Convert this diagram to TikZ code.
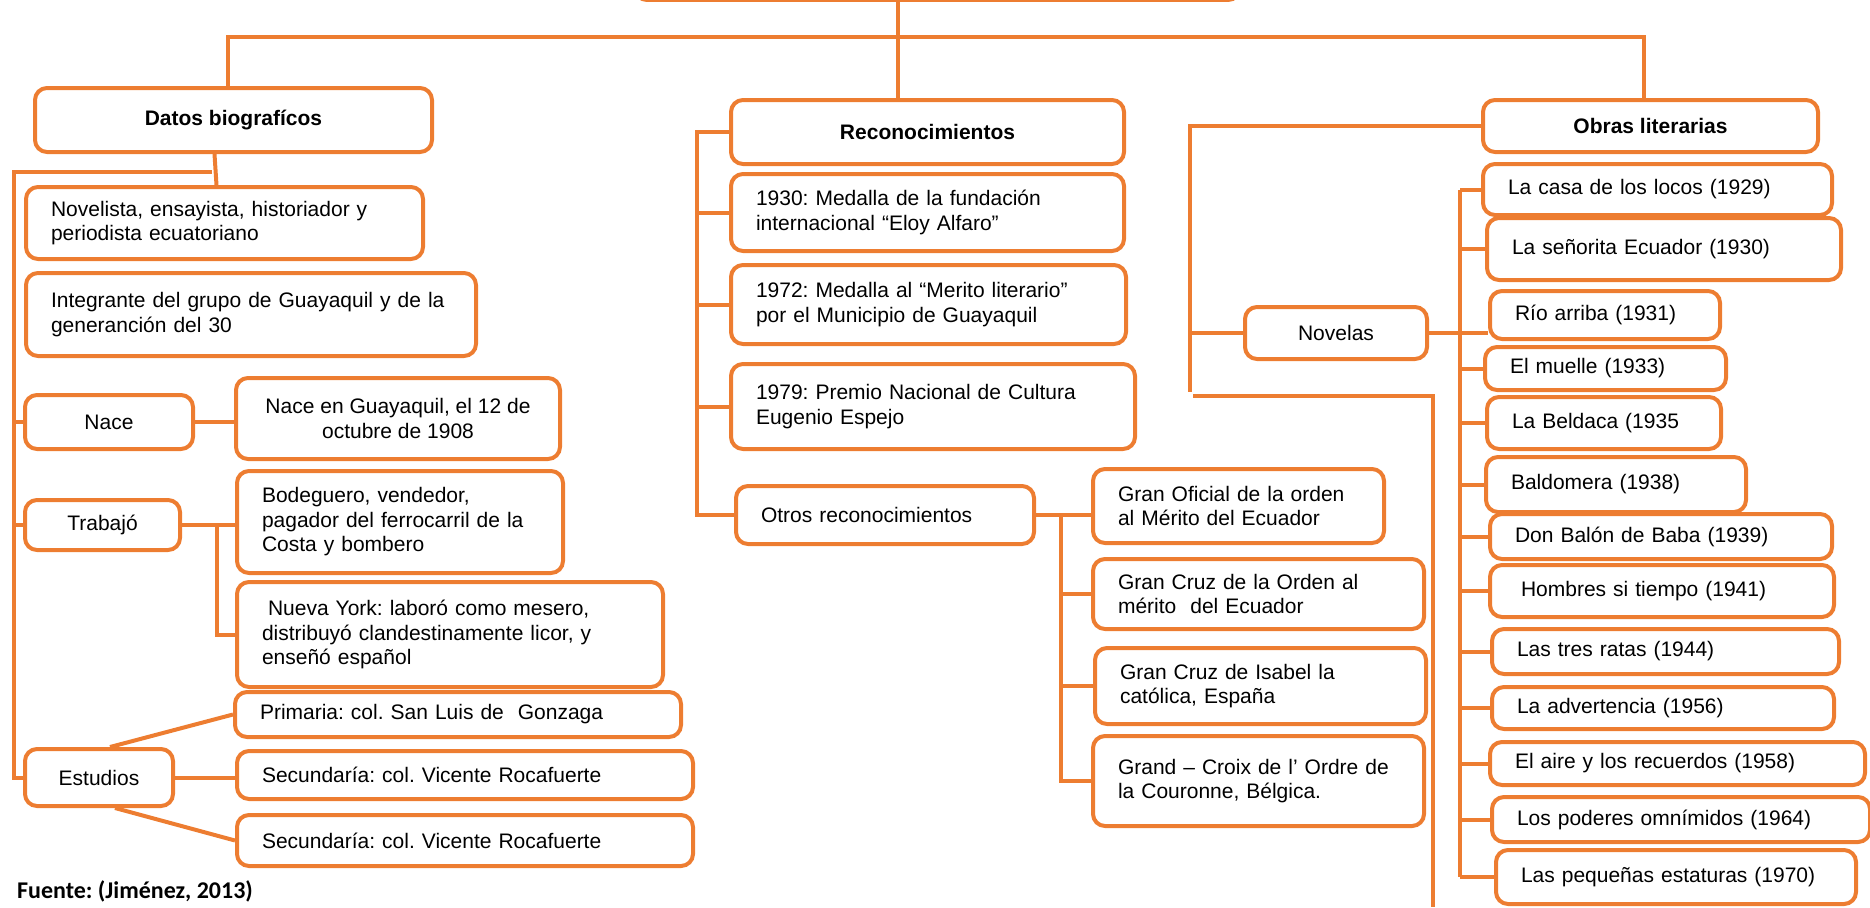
\documentclass[tikz,border=0pt]{standalone}
\usepackage{fontspec}
\usepackage{xcolor}
\usepackage{tikz}
\usetikzlibrary{positioning}
\newfontfamily\letra{Liberation Sans}
\newfontfamily\calibri{Carlito}
\definecolor{naranja}{RGB}{237,125,49}
\frenchspacing

\begin{document}
\begin{tikzpicture}[x=1pt,y=-1pt,
  caja/.style={draw=naranja,line width=4pt,rounded corners=12pt,anchor=north west,inner xsep=25pt,inner ysep=0pt,align=left,font=\letra\fontsize{21pt}{24.5pt}\selectfont},
  centro/.style={caja,align=center},
  cabecera/.style={caja,align=center,font=\letra\bfseries\fontsize{21pt}{24.5pt}\selectfont},
  linea/.style={draw=naranja,line width=4pt}]
 \useasboundingbox (0,0) rectangle (1870,907);
 \clip (0,0) rectangle (1870,907);
 \node[caja,minimum width=605pt,minimum height=80pt,anchor=south west](raiz) at (633,2){};
 \node[cabecera,minimum width=397pt,minimum height=64pt](datos) at (33,86){Datos biografícos};
 \node[cabecera,minimum width=393pt,minimum height=64pt](recon) at (729,98){Reconocimientos};
 \node[cabecera,minimum width=335pt,minimum height=52pt](obras) at (1481,98){Obras literarias};

 \node[caja,text width=347pt,minimum height=72pt](novelista) at (24,185){Novelista, ensayista, historiador y\\periodista ecuatoriano};
 \node[caja,text width=400pt,minimum height=83pt](integrante) at (24,271){Integrante del grupo de Guayaquil y de la\\generanción del 30};
 \node[centro,minimum width=168pt,minimum height=54pt](nace) at (23,393){Nace};
 \node[centro,minimum width=324pt,minimum height=81pt](nacedet) at (234,376){Nace en Guayaquil, el 12 de\\octubre de 1908};
 \node[centro,minimum width=155pt,minimum height=50pt](trabajo) at (23,498){Trabajó};
 \node[caja,text width=276pt,minimum height=102pt](bodeguero) at (235,469){Bodeguero, vendedor,\\pagador del ferrocarril de la\\Costa y bombero};
 \node[caja,text width=376pt,minimum height=105pt](nuevayork) at (235,580){\hspace*{6pt}Nueva York: laboró como mesero,\\distribuyó clandestinamente licor, y\\enseñó español};
 \node[caja,text width=396pt,minimum height=45pt](primaria) at (233,690){Primaria: col. San Luis de\ \ Gonzaga};
 \node[centro,minimum width=148pt,minimum height=57pt](estudios) at (23,747){Estudios};
 \node[caja,text width=406pt,minimum height=48pt](secund) at (235,749){Secundaría: col. Vicente Rocafuerte};
 \node[caja,text width=406pt,minimum height=51pt](secundb) at (235,813){Secundaría: col. Vicente Rocafuerte};
 \node[anchor=west,inner sep=0pt,font=\calibri\bfseries\fontsize{24pt}{28pt}\selectfont](fuente) at (17,891){Fuente: (Jiménez, 2013)};

 \node[caja,text width=343pt,minimum height=77pt](m1930) at (729,172){1930: Medalla de la fundación\\internacional “Eloy Alfaro”};
 \node[caja,text width=345pt,minimum height=79pt](m1972) at (729,263){1972: Medalla al “Merito literario”\\por el Municipio de Guayaquil};
 \node[caja,text width=354pt,minimum height=85pt](m1979) at (729,362){1979: Premio Nacional de Cultura\\Eugenio Espejo};
 \node[caja,text width=248pt,minimum height=58pt](otros) at (734,484){Otros reconocimientos};
 \node[caja,text width=241pt,minimum height=74pt](oficial) at (1091,467){Gran Oficial de la orden\\al Mérito del Ecuador};
 \node[caja,text width=281pt,minimum height=70pt](grancruz) at (1091,557){Gran Cruz de la Orden al\\mérito\ \ del Ecuador};
 \node[caja,text width=281pt,minimum height=76pt](isabel) at (1093,646){Gran Cruz de Isabel la\\católica, España};
 \node[caja,text width=281pt,minimum height=90pt](croix) at (1091,734){Grand – Croix de l’ Ordre de\\la Couronne, Bélgica.};

 \node[centro,minimum width=182pt,minimum height=52pt](novelas) at (1243,305){Novelas};
 \node[caja,text width=299pt,minimum height=51pt](casa) at (1481,162){La casa de los locos (1929)};
 \node[caja,text width=304pt,minimum height=62pt](senorita) at (1485,216){La señorita Ecuador (1930)};
 \node[caja,text width=180pt,minimum height=48pt](rio) at (1488,289){Río arriba (1931)};
 \node[caja,text width=191pt,minimum height=43pt](muelle) at (1483,345){El muelle (1933)};
 \node[caja,text width=184pt,minimum height=52pt](beldaca) at (1485,395){La Beldaca (1935};
 \node[caja,text width=210pt,minimum height=55pt](baldomera) at (1484,455){Baldomera (1938)};
 \node[caja,text width=292pt,minimum height=45pt](balon) at (1488,512){Don Balón de Baba (1939)};
 \node[caja,text width=294pt,minimum height=52pt](hombres) at (1488,563){\hspace*{6pt}Hombres si tiempo (1941)};
 \node[caja,text width=297pt,minimum height=45pt](ratas) at (1490,627){Las tres ratas (1944)};
 \node[caja,text width=292pt,minimum height=42pt](advertencia) at (1490,685){La advertencia (1956)};
 \node[caja,text width=325pt,minimum height=43pt](aire) at (1488,740){El aire y los recuerdos (1958)};
 \node[caja,text width=328pt,minimum height=45pt](poderes) at (1490,795){Los poderes omnímidos (1964)};
 \node[caja,text width=310pt,minimum height=54pt](pequenas) at (1494,848){Las pequeñas estaturas (1970)};

 \coordinate (ramaL) at (228,37);
 \coordinate (ramaC) at (898,37);
 \coordinate (ramaR) at (1644,37);
 \draw[linea] (ramaC |- raiz.south) -- (ramaC |- recon.north);
 \draw[linea] (datos.north -| ramaL) -- (ramaL) -- (ramaR) -- (obras.north -| ramaR);

 \coordinate (bioL) at (14,172);
 \coordinate (bioC) at (212,172);
 \draw[linea] ([xshift=-19pt]datos.south) -- ([xshift=-8pt]novelista.north);
 \draw[linea] (bioC) -- (bioL) -- (bioL |- estudios.west) -- (estudios.west);
 \draw[linea] (bioL |- nace.west) -- (nace.west);
 \draw[linea] (bioL |- trabajo.west) -- (trabajo.west);
 \draw[linea] (nace.east) -- (nace.east -| nacedet.west);
 \coordinate (trab) at (217,0);
 \draw[linea] (trabajo.east) -- (trabajo.east -| bodeguero.west);
 \draw[linea] (trab |- trabajo.east) -- (trab |- nuevayork.west) -- (nuevayork.west);
 \draw[linea] ([xshift=11pt]estudios.north) -- (primaria.west);
 \draw[linea] (estudios.east) -- (estudios.east -| secund.west);
 \draw[linea] ([xshift=16pt]estudios.south) -- (secundb.west);

 \coordinate (recbus) at (697,0);
 \draw[linea] (recon.west) -- (recbus |- recon.west) -- (recbus |- otros.west) -- (otros.west);
 \foreach \nodo in {m1930,m1972,m1979} \draw[linea] (recbus |- \nodo.west) -- (\nodo.west);
 \coordinate (otbus) at (1061,0);
 \draw[linea] (otros.east) -- (otros.east -| oficial.west);
 \draw[linea] (otbus |- otros.east) -- (otbus |- croix.west) -- (croix.west);
 \foreach \nodo in {grancruz,isabel} \draw[linea] (otbus |- \nodo.west) -- (\nodo.west);

 \coordinate (obbus) at (1190,392);
 \draw[linea] (obras.west) -| (obbus);
 \draw[linea] (obbus |- novelas.west) -- (novelas.west);
 \coordinate (sigue1) at (1193,396);
 \coordinate (sigue2) at (1433,396);
 \coordinate (sigue3) at (1433,907);
 \draw[linea] (sigue1) -- (sigue2) -- (sigue3);
 \draw[linea] (novelas.east) -- (novelas.east -| rio.west);
 \coordinate (novbus) at (1460,0);
 \draw[linea] (novbus |- casa.west) -- (novbus |- pequenas.west);
 \foreach \nodo in {casa,senorita,muelle,beldaca,baldomera,balon,hombres,ratas,advertencia,aire,poderes,pequenas} \draw[linea] (novbus |- \nodo.west) -- (\nodo.west);
\end{tikzpicture}
\end{document}
